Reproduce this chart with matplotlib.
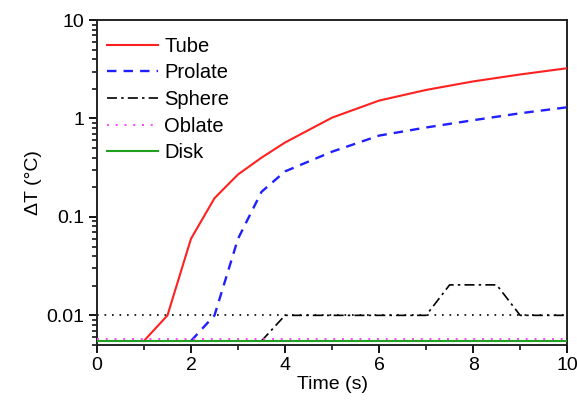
import matplotlib
matplotlib.use("Agg")
import matplotlib.pyplot as plt
from matplotlib.ticker import FixedLocator, FixedFormatter, LogLocator, NullFormatter, MultipleLocator

plt.rcParams['font.family'] = ['Liberation Sans', 'DejaVu Sans']

tube_t = [1.0, 1.5, 2.0, 2.5, 3.0, 3.5, 4.0, 5.0, 6.0, 7.0, 8.0, 9.0, 10.0]
tube_v = [0.0055, 0.01, 0.06, 0.155, 0.27, 0.40, 0.57, 1.02, 1.52, 1.95, 2.38, 2.80, 3.24]

prolate_t = [2.0, 2.5, 3.0, 3.5, 4.0, 5.0, 6.0, 7.0, 8.0, 9.0, 10.0]
prolate_v = [0.0055, 0.01, 0.06, 0.18, 0.29, 0.46, 0.67, 0.81, 0.96, 1.13, 1.30]

sphere_t = [3.5, 4.0, 7.0, 7.5, 8.5, 9.0, 10.0]
sphere_v = [0.0055, 0.01, 0.01, 0.0204, 0.0204, 0.01, 0.01]

oblate_t = [0.0, 10.0]
oblate_v = [0.0057, 0.0057]

disk_t = [0.0, 10.0]
disk_v = [0.0055, 0.0055]

threshold = 0.01

ytick_vals = [0.01, 0.1, 1, 10]
ytick_labels = ['0.01', '0.1', '1', '10']

fig = plt.figure(figsize=(5.77, 4.01), dpi=100)
ax = fig.add_axes([0.168, 0.1397, 0.815, 0.8103])

ax.axhline(threshold, color='black', linestyle=(0, (1, 3.5)), linewidth=1.2, zorder=1)
ax.plot(tube_t, tube_v, color='#ff2020', linewidth=1.5, label='Tube', zorder=3)
ax.plot(prolate_t, prolate_v, color='#2020ff', linewidth=1.7, linestyle=(0, (4, 3)), label='Prolate', zorder=3)
ax.plot(sphere_t, sphere_v, color='black', linewidth=1.2, linestyle=(0, (6, 2.5, 1.5, 2.5)), label='Sphere', zorder=3)
ax.plot(oblate_t, oblate_v, color='#ff40ff', linewidth=1.4, linestyle=(0, (1, 3.5)), label='Oblate', zorder=3)
ax.plot(disk_t, disk_v, color='#20a020', linewidth=1.5, label='Disk', zorder=4)

ax.set_yscale('log')
ax.set_xlim(0, 10)
ax.set_ylim(0.005, 10)

ax.xaxis.set_major_locator(MultipleLocator(2))
ax.xaxis.set_minor_locator(MultipleLocator(1))
ax.yaxis.set_major_locator(FixedLocator(ytick_vals))
ax.yaxis.set_major_formatter(FixedFormatter(ytick_labels))
ax.yaxis.set_minor_locator(LogLocator(base=10, subs=range(2, 10)))
ax.yaxis.set_minor_formatter(NullFormatter())

ax.tick_params(axis='both', which='major', direction='out', length=6, width=1.3, labelsize=14, pad=3)
ax.tick_params(axis='both', which='minor', direction='out', length=3.5, width=1.1)
ax.tick_params(top=False, right=False)

for s in ax.spines.values():
    s.set_linewidth(1.4)
    s.set_color('#222222')

ax.set_xlabel('Time (s)', fontsize=14, labelpad=1)
ax.set_ylabel('ΔT (°C)', fontsize=14, labelpad=3)

ax.legend(loc='upper left', frameon=False, fontsize=14.5, handlelength=2.55,
          handletextpad=0.3, labelspacing=0.38, borderaxespad=0.3,
          bbox_to_anchor=(-0.009, 0.992))

fig.savefig('out.png', dpi=100)
